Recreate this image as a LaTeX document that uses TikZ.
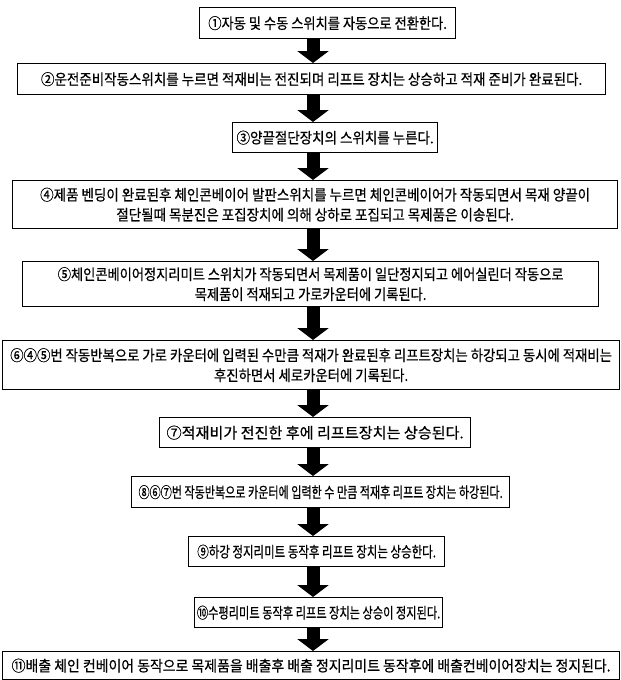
\documentclass[tikz,border=0pt]{standalone}
\usepackage{fontspec}
\usepackage{graphicx}
\newfontfamily\kr[FakeStretch=0.90,FakeBold=0.6]{Noto Sans CJK KR}
\usetikzlibrary{arrows.meta}
\tikzset{
  stepbox/.style={draw=black, line width=1.3pt, fill=white, inner sep=0pt, anchor=north west,
    align=center, font=\kr\fontsize{15}{20}\selectfont},
  flowarrow/.style={draw=black, line width=13pt, line cap=butt,
    -{Triangle[width=31pt,length=12pt]}}
}
\newcommand{\sx}[2]{\scalebox{#1}[1]{#2}}
\newcommand{\bx}[6]{% name, left, right, top, bottom, text
  \node[stepbox, minimum width=#3pt-#2pt, minimum height=#5pt-#4pt] (#1) at (#2pt,-#4pt) {#6};}
\begin{document}
\begin{tikzpicture}[x=1pt,y=1pt]
\useasboundingbox (0,0) rectangle (621,-680);
\bx{b1}{199}{455}{7}{38}{\sx{0.98}{①자동 및 수동 스위치를 자동으로 전환한다.}}
\bx{b2}{17}{605}{63}{94}{②운전준비작동스위치를 누르면 적재비는 전진되며 리프트 장치는 상승하고 적재 준비가 완료된다.}
\bx{b3}{232}{437}{122}{152}{③양끝절단장치의 스위치를 누른다.}
\bx{b4}{12}{617}{180}{228}{④제품 벤딩이 완료된후 체인콘베이어 발판스위치를 누르면 체인콘베이어가 작동되면서 목재 양끝이\\절단될때 목분진은 포집장치에 의해 상하로 포집되고 목제품은 이송된다.}
\bx{b5}{22}{598}{261}{306}{\sx{0.98}{⑤체인콘베이어정지리미트 스위치가 작동되면서 목제품이 일단정지되고 에어실린더 작동으로}\\\sx{0.98}{목제품이 적재되고 가로카운터에 기록된다.}}
\bx{b6}{2}{619}{340}{389}{\sx{0.99}{⑥④⑤번 작동반복으로 가로 카운터에 입력된 수만큼 적재가 완료된후 리프트장치는 하강되고 동시에 적재비는}\\\sx{0.99}{후진하면서 세로카운터에 기록된다.}}
\bx{b7}{159}{470}{417}{447}{\sx{1.12}{⑦적재비가 전진한 후에 리프트장치는 상승된다.}}
\bx{b8}{131}{509}{476}{507}{\sx{0.82}{⑧⑥⑦번 작동반복으로 카운터에 입력한 수 만큼 적재후 리프트 장치는 하강된다.}}
\bx{b9}{188}{444}{536}{566}{\sx{0.85}{⑨하강 정지리미트 동작후 리프트 장치는 상승한다.}}
\bx{b10}{194}{442}{597}{627}{\sx{0.83}{⑩수평리미트 동작후 리프트 장치는 상승이 정지된다.}}
\bx{b11}{2}{619}{651}{679}{\sx{1.03}{⑪배출 체인 컨베이어 동작으로 목제품을 배출후 배출 정지리미트 동작후에 배출컨베이어장치는 정지된다.}}
\coordinate (ax) at (313,0);
\foreach \a/\b in {b1/b2,b2/b3,b3/b4,b4/b5,b5/b6,b6/b7,b7/b8,b8/b9,b9/b10,b10/b11}
  \draw[flowarrow] (\a.south -| ax) -- (\b.north -| ax);
\end{tikzpicture}
\end{document}
